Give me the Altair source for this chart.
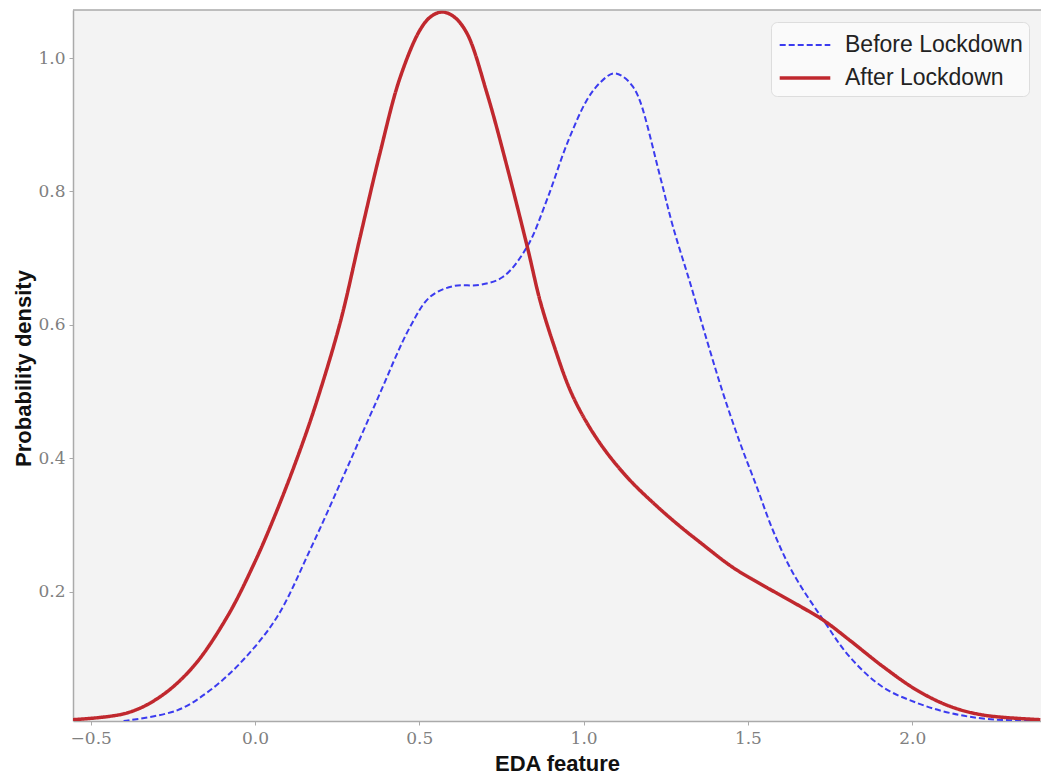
import altair as alt
import pandas as pd

# ---- data ----
before_x = [-0.40, -0.237, -0.137, -0.037, 0.067, 0.167, 0.268, 0.371, 0.472, 0.533,
            0.603, 0.685, 0.755, 0.828, 0.888, 0.95, 1.01, 1.05, 1.09, 1.12, 1.15, 1.172,
            1.233, 1.272, 1.324, 1.375, 1.424, 1.476, 1.527, 1.576, 1.637, 1.73, 1.81,
            1.91, 2.015, 2.115, 2.23, 2.39]
before_y = [0.006, 0.022, 0.052, 0.097, 0.162, 0.262, 0.372, 0.487, 0.597, 0.642,
            0.658, 0.660, 0.672, 0.717, 0.787, 0.872, 0.937, 0.963, 0.977, 0.972, 0.957, 0.935,
            0.822, 0.747, 0.663, 0.577, 0.498, 0.423, 0.357, 0.292, 0.228, 0.157, 0.102,
            0.057, 0.033, 0.018, 0.009, 0.006]

after_x = [-0.554, -0.39, -0.29, -0.189, -0.085, 0.0, 0.067, 0.137, 0.189, 0.26,
           0.32, 0.38, 0.441, 0.502, 0.535, 0.569, 0.605, 0.645, 0.706, 0.767, 0.831, 0.867,
           0.907, 0.959, 1.01, 1.071, 1.141, 1.223, 1.293, 1.354, 1.455, 1.558, 1.659, 1.73,
           1.81, 1.91, 2.015, 2.115, 2.215, 2.39]
after_y = [0.008, 0.018, 0.042, 0.087, 0.162, 0.245, 0.322, 0.412, 0.487, 0.605,
           0.732, 0.857, 0.970, 1.042, 1.062, 1.069, 1.062, 1.037, 0.947, 0.837, 0.712, 0.637,
           0.573, 0.502, 0.453, 0.408, 0.367, 0.328, 0.298, 0.274, 0.236, 0.206, 0.178, 0.157,
           0.127, 0.088, 0.052, 0.028, 0.015, 0.008]

series_names = ["Before Lockdown", "After Lockdown"]
x_ticks = [-0.5, 0.0, 0.5, 1.0, 1.5, 2.0]
y_ticks = [0.2, 0.4, 0.6, 0.8, 1.0]

df = pd.concat([
    pd.DataFrame({"x": before_x, "y": before_y, "series": series_names[0]}),
    pd.DataFrame({"x": after_x, "y": after_y, "series": series_names[1]}),
])

W, H = 968, 711

lines = alt.Chart(df).mark_line(interpolate="catmull-rom", clip=True).encode(
    x=alt.X("x:Q", scale=alt.Scale(domain=[-0.554, 2.392], nice=False, zero=False),
            axis=alt.Axis(values=x_ticks, format=".1f", title="EDA feature",
                          titleY=49, titleBaseline="alphabetic")),
    y=alt.Y("y:Q", scale=alt.Scale(domain=[0.006, 1.072], nice=False, zero=False),
            axis=alt.Axis(values=y_ticks, format=".1f", title="Probability density",
                          titleX=-43, titleY=358, titleAngle=270,
                          titleBaseline="alphabetic", titleAlign="center")),
    color=alt.Color("series:N", sort=series_names,
                    scale=alt.Scale(domain=series_names, range=["#3b3bef", "#c0282e"]),
                    legend=alt.Legend(title=None)),
    strokeDash=alt.StrokeDash("series:N", sort=series_names,
                              scale=alt.Scale(domain=series_names, range=[[6, 3], [1, 0]]),
                              legend=alt.Legend(title=None)),
    strokeWidth=alt.StrokeWidth("series:N", sort=series_names,
                                scale=alt.Scale(domain=series_names, range=[2, 3.5]),
                                legend=alt.Legend(title=None)),
)

top_border = alt.Chart(pd.DataFrame({"v": [0]})).mark_rule(color="#aaaaaa", strokeWidth=1.5).encode(
    x=alt.value(0), x2=alt.value(W), y=alt.value(0)
)

chart = alt.layer(lines, top_border).properties(
    width=W, height=H,
    autosize=alt.AutoSizeParams(type="none"),
    padding={"left": 73, "top": 10, "right": 0, "bottom": 53},
).configure_view(
    fill="#f3f3f3", stroke=None
).configure_axis(
    grid=False,
    domainColor="#aaaaaa", domainWidth=1.5,
    tickColor="#aaaaaa", tickSize=4, tickWidth=1,
    labelFont="DejaVu Serif", labelFontSize=17, labelColor="#808080",
    titleFont="Liberation Sans", titleFontSize=22, titleFontWeight="bold", titleColor="#111111",
).configure_axisX(
    labelPadding=5
).configure_axisY(
    labelPadding=4
).configure_legend(
    orient="none", legendX=698, legendY=12,
    fillColor="#fafafa", strokeColor="#dddddd", cornerRadius=6, padding=6,
    symbolType="M-1.6,0L1.6,0", symbolSize=1000, symbolOffset=10, labelOffset=22,
    labelFont="Liberation Sans", labelFontSize=23, labelColor="#222222",
    labelLimit=0, rowPadding=3,
)

chart.save("out.html", embed_options={"renderer": "svg", "actions": False})
